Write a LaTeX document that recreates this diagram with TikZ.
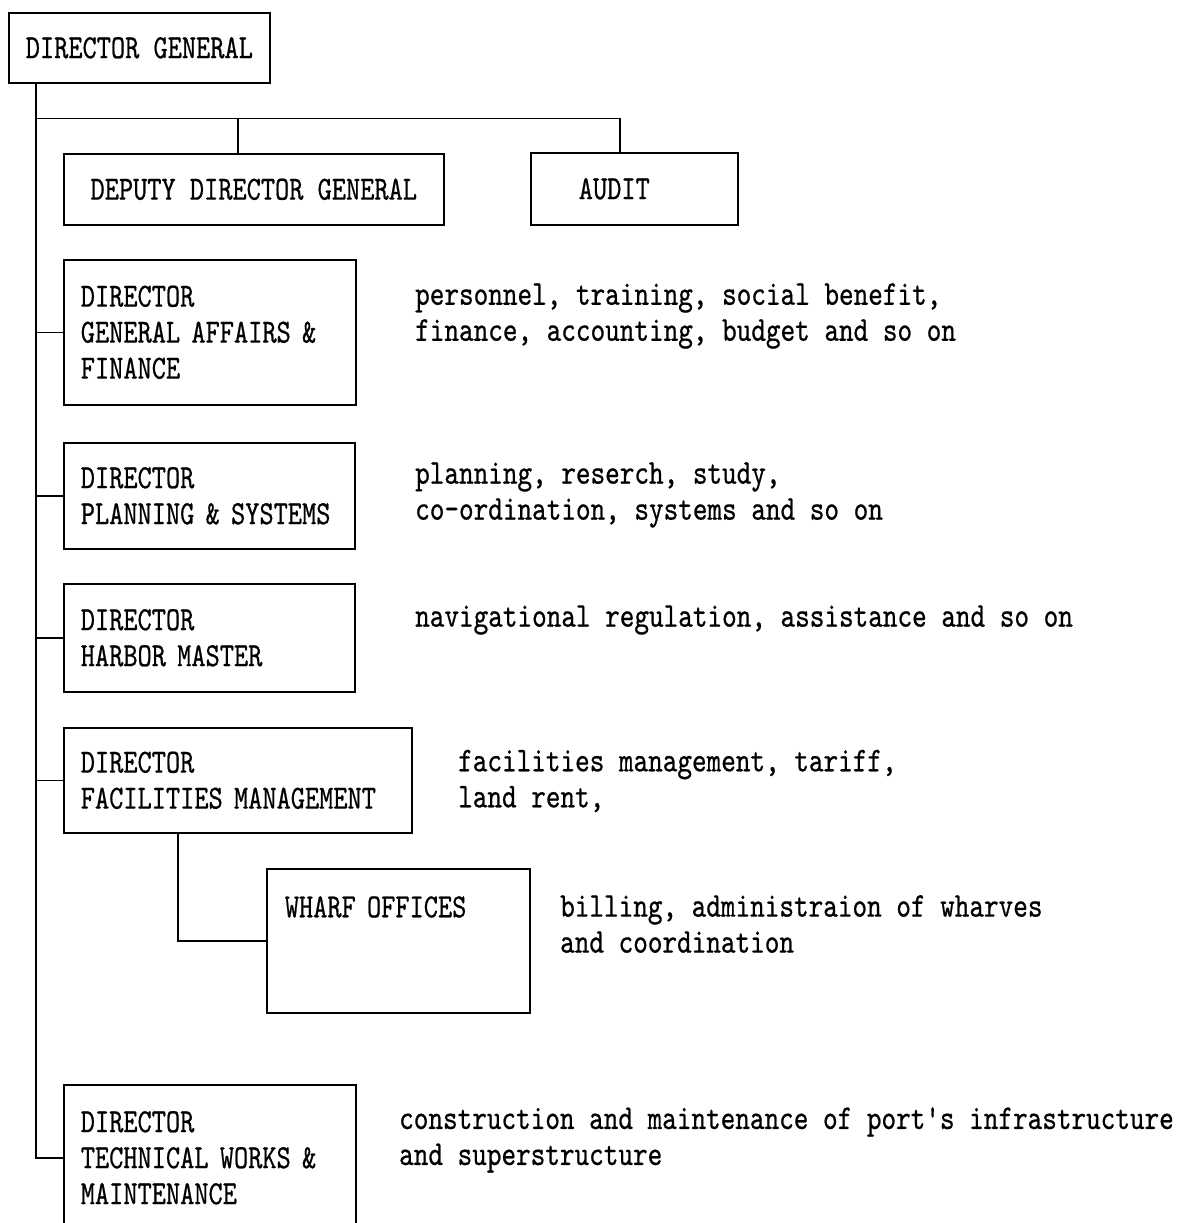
\documentclass[tikz,border=0pt]{standalone}
\usepackage{fontspec}
\usetikzlibrary{calc}
% condensed typewriter face used for every label
\newfontfamily\typerfont{lmmono10-regular.otf}[FakeStretch=0.8, FakeBold=0.6]
\newcommand\boxface{\typerfont\fontsize{33.8pt}{36pt}\selectfont}
\newcommand\noteface{\typerfont\fontsize{34.8pt}{36pt}\selectfont}

\tikzset{
  orgbox/.style={draw, line width=1.6pt, anchor=north west, inner xsep=17pt,
    inner ysep=0pt, font=\boxface, align=left},
  note/.style={anchor=west, inner sep=0pt, font=\noteface, align=left},
  link/.style={draw, line width=1.6pt},
}

\begin{document}
\begin{tikzpicture}[x=1pt, y=-1pt]
\useasboundingbox (0,0) rectangle (1188,1223);

% head of the organisation
\node[orgbox, align=center, minimum width=259pt, minimum height=70pt] (dg) at (8,12) {DIRECTOR GENERAL};

% staff units on the top bus
\node[orgbox, align=center, minimum width=380pt, minimum height=71pt] (ddg) at (63,153) {DEPUTY DIRECTOR GENERAL};
\node[orgbox, inner xsep=48pt, text width=111pt, minimum width=207pt, minimum height=72pt] (audit) at (530,152) {AUDIT};

% directorates hanging off the spine
\node[orgbox, text width=258pt, minimum width=292pt, minimum height=145pt] (gaf) at (63,259) {DIRECTOR\\GENERAL AFFAIRS \&\\FINANCE};
\node[orgbox, text width=257pt, minimum width=291pt, minimum height=106pt] (ps) at (63,442) {DIRECTOR\\PLANNING \& SYSTEMS};
\node[orgbox, text width=257pt, minimum width=291pt, minimum height=108pt] (hm) at (63,583) {DIRECTOR\\HARBOR MASTER};
\node[orgbox, text width=314pt, minimum width=348pt, minimum height=105pt] (fm) at (63,727) {DIRECTOR\\FACILITIES MANAGEMENT};
\node[orgbox, inner xsep=18pt, text width=227pt, minimum width=263pt, minimum height=144pt,
      text height=0pt, text depth=47pt] (wharf) at (266,868) {WHARF OFFICES};
\node[orgbox, text width=258pt, minimum width=292pt, minimum height=146pt] (tw) at (63,1084) {DIRECTOR\\TECHNICAL WORKS \&\\MAINTENANCE};

% duties of each unit
\node[note] (gafnote) at (415,316) {personnel, training, social benefit,\\finance, accounting, budget and so on};
\node[note] (psnote) at (415,495) {planning, reserch, study,\\co-ordination, systems and so on};
\node[note] (hmnote) at (415,620) {navigational regulation, assistance and so on};
\node[note] (fmnote) at (458,781) {facilities management, tariff,\\land rent,};
\node[note] (wharfnote) at (560,924) {billing, administraion of wharves\\and coordination};
\node[note] (twnote) at (399,1140) {construction and maintenance of port's infrastructure\\and superstructure};

% reporting lines
\coordinate (spine) at ($(dg.south west)+(28,0)$);
\coordinate (bus) at ($(spine)+(0,35)$);
\coordinate (ddgtap) at ($(ddg.north west)+(175,0)$);
\coordinate (audittap) at ($(audit.north west)+(90,0)$);
\coordinate (fmtap) at ($(fm.south west)+(115,0)$);

\path[link] (spine) |- (tw.west);
\path[link] (bus) -| (audittap);
\path[link] (ddgtap) -- (ddgtap |- bus);
\foreach \unit in {gaf,ps,hm,fm}
  \path[link] (spine |- \unit.west) -- (\unit.west);
\path[link] (fmtap) |- (wharf.west);
\end{tikzpicture}
\end{document}
